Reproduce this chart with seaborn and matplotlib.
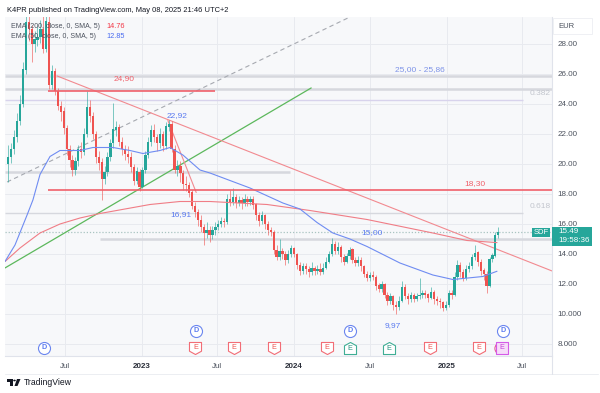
import pandas as pd
import matplotlib
matplotlib.use("Agg")
import matplotlib.pyplot as plt
import matplotlib.dates as mdates
import matplotlib.transforms as mtrans
from matplotlib.path import Path
from matplotlib.patches import Rectangle, Polygon, Circle
from matplotlib.lines import Line2D
import seaborn as sns

# ── weekly candles (SDF, EUR)
first_open = 20.0
closes = [
    20.5, 21.0, 21.8, 22.9, 24.0, 26.3, 29.5, 29.0, 28.0, 28.3,
    28.5, 29.0, 27.7, 29.5, 25.3, 26.2, 24.9, 23.9, 23.5, 22.4,
    21.0, 20.3, 19.6, 20.2, 21.0, 20.8, 22.0, 23.8, 23.2, 22.0,
    20.5, 20.1, 19.0, 19.5, 20.5, 21.4, 22.3, 22.5, 21.5, 21.0,
    20.7, 20.5, 19.8, 18.9, 19.5, 18.5, 19.6, 20.6, 21.5, 22.3,
    21.8, 21.4, 22.0, 21.2, 22.5, 22.7, 21.0, 19.6, 19.9, 19.4,
    18.7, 18.6, 18.1, 17.2, 16.8, 16.3, 15.8, 15.4, 15.6, 15.3,
    15.6, 15.8, 16.0, 16.2, 16.1, 17.7, 17.5, 17.8, 17.4, 17.6,
    17.4, 17.7, 17.5, 17.7, 17.3, 16.6, 16.2, 16.6, 16.0, 15.6,
    15.5, 14.3, 13.8, 14.2, 14.0, 13.6, 14.0, 14.4, 14.0, 13.3,
    12.9, 13.2, 13.0, 12.8, 13.1, 12.9, 13.0, 12.8, 13.1, 13.5,
    14.0, 14.7, 14.2, 14.5, 13.8, 13.5, 13.9, 14.3, 13.6, 13.4,
    13.6, 13.2, 12.7, 12.4, 12.6, 12.5, 11.9, 11.7, 12.0, 11.3,
    10.9, 11.2, 10.6, 10.5, 10.9, 11.8, 11.2, 11.0, 11.3, 11.0,
    11.2, 11.3, 11.4, 11.3, 11.1, 11.5, 11.0, 10.9, 10.8, 10.4,
    10.6, 11.4, 11.3, 12.5, 13.3, 12.8, 12.4, 13.0, 13.2, 13.8,
    14.1, 13.5, 12.9, 12.7, 11.9, 13.7, 13.9, 15.3, 15.49,
]
highs = [
    21.3, 21.4, 22.3, 23.4, 24.6, 26.8, 30.5, 30.5, 29.3, 28.9,
    29.2, 29.6, 30.2, 30.5, 30.0, 26.6, 26.4, 25.1, 24.2, 23.8,
    22.6, 21.3, 20.6, 20.5, 21.3, 21.5, 22.4, 24.9, 24.3, 23.5,
    22.2, 20.9, 20.4, 19.9, 20.8, 21.7, 24.1, 22.9, 22.7, 21.8,
    21.3, 21.2, 20.8, 20.0, 19.8, 19.7, 19.8, 20.9, 21.8, 22.6,
    22.7, 22.0, 22.4, 22.2, 22.8, 22.92, 22.9, 21.3, 20.3, 20.2,
    19.6, 19.2, 18.8, 18.3, 17.5, 17.0, 16.6, 16.0, 16.1, 15.9,
    15.9, 16.1, 16.3, 16.5, 16.4, 18.0, 18.3, 18.4, 18.0, 17.9,
    17.8, 18.0, 17.9, 17.9, 17.9, 17.4, 16.8, 16.9, 16.7, 16.2,
    15.8, 15.6, 14.6, 15.0, 14.4, 14.2, 14.3, 14.6, 14.5, 14.1,
    13.5, 13.4, 13.4, 13.2, 13.5, 13.2, 13.3, 13.4, 13.4, 13.8,
    14.2, 15.1, 14.9, 14.8, 14.6, 14.0, 14.1, 14.5, 14.4, 13.8,
    13.9, 13.8, 13.3, 12.9, 12.8, 12.9, 12.6, 12.1, 12.2, 12.1,
    11.5, 11.4, 11.3, 10.9, 11.2, 12.2, 12.0, 11.4, 11.5, 11.4,
    11.4, 12.4, 11.6, 11.6, 11.4, 11.8, 11.6, 11.2, 11.1, 10.9,
    10.9, 11.6, 11.6, 12.8, 13.6, 13.5, 13.0, 13.3, 13.5, 14.0,
    14.6, 14.2, 13.7, 13.1, 12.9, 13.8, 14.1, 15.5, 15.8,
]
lows = [
    18.8, 20.1, 20.7, 21.5, 22.6, 23.8, 26.0, 28.2, 26.8, 27.5,
    27.9, 28.1, 27.4, 27.5, 25.0, 25.0, 24.6, 23.6, 22.9, 22.0,
    20.6, 19.8, 19.2, 19.3, 19.9, 20.4, 20.6, 21.8, 22.8, 21.7,
    20.1, 19.6, 17.6, 18.7, 19.2, 20.2, 21.1, 21.9, 21.2, 20.6,
    20.3, 20.1, 19.5, 18.6, 18.7, 18.2, 18.4, 19.4, 20.4, 21.2,
    21.5, 20.9, 21.1, 20.9, 21.0, 22.2, 20.8, 19.4, 19.2, 18.8,
    18.3, 18.2, 17.8, 17.0, 16.5, 15.9, 15.5, 14.6, 15.1, 14.8,
    15.0, 15.3, 15.6, 15.8, 15.8, 16.0, 17.2, 17.3, 17.1, 17.2,
    17.0, 17.2, 17.2, 17.3, 17.0, 16.3, 15.9, 16.0, 15.7, 15.3,
    15.2, 14.0, 13.6, 13.6, 13.7, 13.3, 13.4, 13.8, 13.8, 13.0,
    12.6, 12.7, 12.7, 12.5, 12.6, 12.6, 12.7, 12.6, 12.7, 13.0,
    13.4, 13.9, 14.0, 14.0, 13.5, 13.3, 13.4, 13.7, 13.4, 13.2,
    13.2, 12.9, 12.5, 12.2, 12.2, 12.3, 11.6, 11.5, 11.5, 11.1,
    10.6, 10.7, 10.3, 9.97, 10.3, 10.8, 11.0, 10.7, 10.8, 10.8,
    10.9, 11.0, 11.1, 11.1, 10.8, 11.0, 10.7, 10.6, 10.4, 10.2,
    10.3, 10.5, 11.0, 11.2, 12.3, 12.5, 12.2, 12.3, 12.8, 13.0,
    13.6, 13.2, 12.6, 12.3, 11.4, 11.8, 13.5, 13.8, 15.1,
]
weeks = pd.date_range("2022-02-14", periods=len(closes), freq="7D")

# ── moving averages
ema50_dates = ["2022-02-06", "2022-03-02", "2022-03-31", "2022-04-14", "2022-05-01",
               "2022-05-25", "2022-06-18", "2022-07-05", "2022-08-05", "2022-09-05",
               "2022-09-22", "2022-10-23", "2022-12-03", "2023-01-03", "2023-02-13",
               "2023-03-09", "2023-04-09", "2023-05-20", "2023-06-13", "2023-09-17",
               "2023-12-05", "2024-01-15", "2024-02-25", "2024-04-03", "2024-05-14",
               "2024-06-24", "2024-09-11", "2024-11-29", "2025-01-16", "2025-03-29",
               "2025-05-02"]
ema50_vals = [13.5, 14.6, 16.6, 17.6, 19.3, 20.5, 20.9, 20.9, 20.9, 21.1,
              21.1, 21.1, 20.9, 20.7, 20.9, 21.1, 20.6, 19.6, 19.4, 18.4,
              17.4, 17.0, 16.1, 15.4, 15.0, 14.5, 13.4, 12.6, 12.3, 12.5, 12.85]
ema200_dates = ["2022-02-06", "2022-03-14", "2022-05-01", "2022-06-18", "2022-08-05",
                "2022-09-22", "2023-01-20", "2023-04-02", "2023-06-13", "2023-10-28",
                "2024-02-08", "2024-06-24", "2024-11-29", "2025-02-19", "2025-05-02"]
ema200_vals = [13.5, 14.4, 15.4, 16.0, 16.4, 16.7, 17.3, 17.5, 17.5, 17.3,
               16.9, 16.3, 15.4, 14.9, 14.76]

# ── drawings
trend_down = (["2022-06-11", "2025-09-11"], [25.87, 12.87])
trend_steep = (["2023-03-04", "2023-05-11"], [22.9, 18.1])
trend_up = (["2022-02-06", "2024-02-11"], [13.07, 25.07])
trend_dash = (["2022-02-11", "2024-05-14"], [18.8, 29.8])

d_events = ["2022-05-10", "2023-05-11", "2024-05-14", "2025-05-16"]
e_red = ["2023-05-09", "2023-08-10", "2023-11-14", "2024-03-20", "2024-11-22", "2025-03-20"]
e_green = ["2024-05-14", "2024-08-16"]
e_next = ["2025-05-14"]

yticks = [8, 10, 12, 14, 16, 18, 20, 22, 24, 26, 28]
ylabels = ["8.000", "10.000", "12.00", "14.00", "16.00", "18.00", "20.00",
           "22.00", "24.00", "26.00", "28.00"]
xtick_dates = ["2022-07-01", "2023-01-01", "2023-07-01", "2024-01-01",
               "2024-07-01", "2025-01-01", "2025-07-01"]
xtick_labels = ["Jul", "2023", "Jul", "2024", "Jul", "2025", "Jul"]

UP, DOWN = "#26a69a", "#ef5350"
BLUE, RED = "#5b7bf0", "#f0606a"
TXT = "#4c525e"


def num(d):
    return mdates.date2num(pd.Timestamp(d))


def nums(ds):
    return [num(d) for d in ds]


sns.set_theme(style="white")
plt.rcParams["font.family"] = ["Liberation Sans", "DejaVu Sans"]

fig = plt.figure(figsize=(6, 3.93), dpi=100)
fig.patch.set_facecolor("white")
ax = fig.add_axes([5 / 600, 37 / 393, 547 / 600, 339 / 393])
ax.set_facecolor("#f7f8fa")
ax.set_xlim(num("2022-02-06"), num("2025-09-11"))
ax.set_ylim(7.2, 29.8)

# grid + axes
ax.set_yticks(yticks)
ax.set_yticklabels(ylabels)
ax.yaxis.tick_right()
ax.set_xticks(nums(xtick_dates))
ax.set_xticklabels(xtick_labels)
ax.tick_params(axis="y", length=0, pad=4, labelsize=5.8, labelcolor=TXT)
ax.tick_params(axis="x", length=0, pad=5, labelsize=5.8, labelcolor=TXT)
for lab in ax.get_xticklabels():
    if lab.get_text() != "Jul":
        lab.set_fontweight("bold")
        lab.set_color("#2a2e39")
ax.grid(True, color="#e8eaef", linewidth=0.7)
for s in ["top", "left"]:
    ax.spines[s].set_visible(False)
for s in ["right", "bottom"]:
    ax.spines[s].set_color("#e0e3eb")
    ax.spines[s].set_linewidth(0.8)

# horizontal levels
xl, xr = ax.get_xlim()
ax.hlines([25.86, 25.0], xl, xr, color="#d6d8de", linewidth=1.8, zorder=1)
ax.hlines(19.47, xl, num("2023-12-22"), color="#d6d8de", linewidth=1.8, zorder=1)
ax.hlines(15.0, num("2022-09-22"), xr, color="#d6d8de", linewidth=1.8, zorder=1)
ax.hlines([24.27], xl, num("2025-07-03"), color="#d8d3ec", linewidth=1.0, zorder=1)
ax.hlines([16.73], xl, num("2025-07-03"), color="#d6d8de", linewidth=1.0, zorder=1)
ax.hlines(15.49, xl, xr, color="#a9c4c1", linewidth=0.9, linestyle=(0, (1, 1.5)), zorder=1)

# trend lines
ax.plot(nums(trend_dash[0]), trend_dash[1], color="#a6a9b0", lw=0.8, ls=(0, (4, 3)), zorder=2)
ax.plot(nums(trend_up[0]), trend_up[1], color="#5cb85c", lw=0.9, zorder=2)
ax.plot(nums(trend_down[0]), trend_down[1], color="#f28a90", lw=0.8, zorder=2)
ax.plot(nums(trend_steep[0]), trend_steep[1], color="#f28a90", lw=0.8, zorder=2)

# candles
x = mdates.date2num(weeks)
opens = [first_open] + closes[:-1]
colors = [UP if c >= o else DOWN for o, c in zip(opens, closes)]
bottoms = [min(o, c) for o, c in zip(opens, closes)]
heights = [max(abs(c - o), 0.05) for o, c in zip(opens, closes)]
ax.vlines(x, lows, highs, colors=colors, linewidth=0.7, alpha=0.6, zorder=3)
ax.bar(x, heights, bottom=bottoms, width=5.5, color=colors, linewidth=0, zorder=4)

# EMAs
sns.lineplot(x=nums(ema200_dates), y=ema200_vals, ax=ax, color="#f07d86", linewidth=0.8, zorder=5)
sns.lineplot(x=nums(ema50_dates), y=ema50_vals, ax=ax, color="#6f8cf2", linewidth=0.8, zorder=5)
ax.hlines(24.9, num("2022-05-20"), num("2023-06-25"), color="#f0606a", linewidth=1.2, zorder=5)
ax.hlines(18.3, num("2022-05-20"), xr, color="#f0606a", linewidth=1.2, zorder=5)

# labels on chart
lab = dict(fontsize=6, ha="center", va="center", zorder=6)
ax.text(num("2022-11-19"), 25.67, "24,90", color=RED, **lab)
ax.text(num("2023-03-26"), 23.2, "22,92", color=BLUE, **lab)
ax.text(num("2023-04-05"), 16.6, "16,91", color=BLUE, **lab)
ax.text(num("2024-07-06"), 15.4, "15,00", color=BLUE, **lab)
ax.text(num("2024-08-25"), 9.2, "9,97", color=BLUE, **lab)
ax.text(num("2025-03-10"), 18.73, "18,30", color=RED, **lab)
ax.text(num("2024-10-29"), 26.27, "25,00 - 25,86", color="#7d93e8", **lab)
ax.text(num("2025-08-13"), 24.73, "0.382", color="#c2c5cd", **lab)
ax.text(num("2025-08-13"), 17.2, "0.618", color="#c2c5cd", **lab)

# event markers
bt = mtrans.blended_transform_factory(ax.transData, ax.transAxes)
shield_dn = Path([(-1, 1), (1, 1), (1, -0.45), (0, -1), (-1, -0.45), (-1, 1)])
shield_up = Path([(-1, -1), (1, -1), (1, 0.45), (0, 1), (-1, 0.45), (-1, -1)])
for d in d_events:
    yy = 0.024 if d == d_events[0] else 0.074
    ax.scatter([num(d)], [yy], transform=bt, s=75, marker="o", facecolor="white",
               edgecolor="#6b86ef", linewidth=0.8, zorder=7, clip_on=False)
    ax.text(num(d), yy, "D", transform=bt, fontsize=5.2, color="#5b7bf0",
            ha="center", va="center", zorder=8, fontweight="bold")
for d in e_red:
    ax.scatter([num(d)], [0.024], transform=bt, s=75, marker=shield_dn, facecolor="white",
               edgecolor="#f26d76", linewidth=0.8, zorder=7)
    ax.text(num(d), 0.026, "E", transform=bt, fontsize=5.2, color="#ef5350",
            ha="center", va="center", zorder=8)
for d in e_green:
    ax.scatter([num(d)], [0.024], transform=bt, s=75, marker=shield_up, facecolor="white",
               edgecolor="#3fae95", linewidth=0.8, zorder=7)
    ax.text(num(d), 0.021, "E", transform=bt, fontsize=5.2, color="#22917f",
            ha="center", va="center", zorder=8)
for d in e_next:
    ax.scatter([num(d) - 5], [0.024], transform=bt, s=65, marker="o", facecolor="white",
               edgecolor="#e35d9a", linewidth=0.8, zorder=7)
    ax.scatter([num(d)], [0.024], transform=bt, s=65, marker="s", facecolor="#f6dcf9",
               edgecolor="#d55ae8", linewidth=0.8, zorder=7)
    ax.text(num(d), 0.024, "E", transform=bt, fontsize=5.2, color="#c43fd9",
            ha="center", va="center", zorder=8)

# ── boxes on the price axis
def fx(px):
    return px / 600


def fy(py):
    return 1 - py / 393


fig.add_artist(Rectangle((fx(532), fy(237)), fx(18), 9 / 393, color=UP, lw=0))
fig.text(fx(541), fy(232.5), "SDF", color="white", fontsize=5.5, ha="center", va="center")
fig.add_artist(Rectangle((fx(552), fy(246)), fx(40), 19 / 393, color=UP, lw=0))
fig.text(fx(558), fy(232), "15.49", color="white", fontsize=5.8, ha="left", va="center")
fig.text(fx(558), fy(241), "19:58:36", color="white", fontsize=5.8, ha="left", va="center")
fig.add_artist(Rectangle((fx(553), fy(34)), fx(39), 16 / 393, facecolor="white",
                         edgecolor="#eceef2", lw=0.6))
fig.text(fx(558), fy(27), "EUR", color=TXT, fontsize=5.5, ha="left", va="center")

# time-axis strip border
fig.add_artist(Line2D([fx(5), fx(598)], [fy(374), fy(374)], color="#eceef2", lw=0.7))
fig.add_artist(Line2D([fx(552), fx(552)], [fy(356), fy(374)], color="#e0e3eb", lw=0.8))

# header + legend
fig.text(fx(7), fy(10), "K4PR published on TradingView.com, May 08, 2025 21:46 UTC+2",
         fontsize=5.45, color="#131722", va="center")
fig.text(fx(11), fy(26.5), "EMA (200, close, 0, SMA, 5)", fontsize=5.05, color=TXT, va="center")
fig.text(fx(106), fy(26.5), "14.76", fontsize=5.3, color="#f23645", va="center")
fig.text(fx(11), fy(37), "EMA (50, close, 0, SMA, 5)", fontsize=5.05, color=TXT, va="center")
fig.text(fx(106), fy(37), "12.85", fontsize=5.3, color="#4a6cf0", va="center")

# TradingView logo + name
fig.add_artist(Polygon([(fx(7), fy(379)), (fx(12.5), fy(379)), (fx(12.5), fy(386)),
                        (fx(10), fy(386)), (fx(10), fy(381.5)), (fx(7), fy(381.5))],
                       closed=True, color="#131722", lw=0))
fig.add_artist(Circle((fx(14.5), fy(380.5)), 1.3 / 600, color="#131722", lw=0))
fig.add_artist(Polygon([(fx(17), fy(379)), (fx(20.5), fy(379)), (fx(17.5), fy(386)),
                        (fx(14.5), fy(386))], closed=True, color="#131722", lw=0))
fig.text(fx(24), fy(382.5), "TradingView", fontsize=6.2, color="#131722", va="center")

fig.savefig("out.png", dpi=100)
